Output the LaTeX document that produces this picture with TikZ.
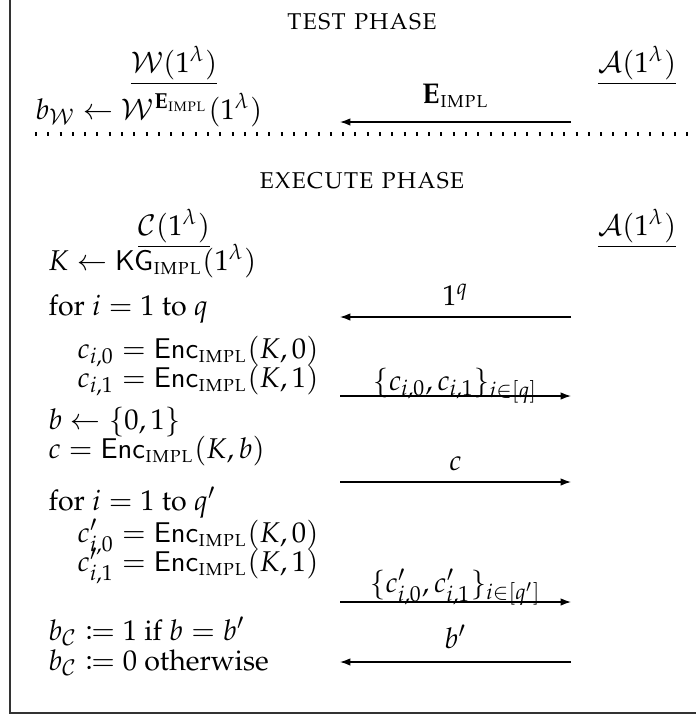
\documentclass[tikz,border=0pt]{standalone}
\usepackage[T1]{fontenc}
\usepackage{mathpazo}
\usepackage{mathtools}
\usetikzlibrary{arrows.meta,positioning}

\newcommand{\impl}{\textsc{impl}}
\newcommand{\Enc}{\mathsf{Enc}_{\impl}}
\newcommand{\KG}{\mathsf{KG}_{\impl}}

\begin{document}
\begin{tikzpicture}[
  x=0.35pt, y=-0.35pt,
  >={Latex[length=3.6pt,width=2.6pt]},
  txt/.style={anchor=base west,inner sep=0pt},
  lbl/.style={anchor=base,inner sep=0pt},
  phase/.style={anchor=base,inner sep=0pt,font=\scshape},
  msg/.style={line width=0.45pt},
  sep/.style={line width=1.2pt,dash pattern=on 0.7pt off 3.6pt},
  frame/.style={line width=0.7pt,black!80}
]
  \useasboundingbox (0,0) rectangle (696,717);

  % frame (cut off at top and right)
  \coordinate (ftop) at (10,0);
  \coordinate (fcorner) at (10,713);
  \coordinate (fend) at (696,713);
  \draw[frame] (ftop) -- (fcorner) -- (fend);

  % Test phase: W against A.
  \node[phase] (tp) at (362,29) {test phase};
  \node[lbl] (w) at (174,72) {$\underline{\mathcal{W}(1^\lambda)}$};
  \node[lbl] (a1) at (637,72) {$\underline{\mathcal{A}(1^\lambda)}$};
  \node[txt] (bw) at (35,119) {$b_{\mathcal{W}} \leftarrow \mathcal{W}^{\mathbf{E}_{\impl}}(1^\lambda)$};

  \coordinate (m0r) at (571,122);
  \coordinate (m0l) at (340,122);
  \draw[msg,->] (m0r) -- node[lbl,yshift=6.6pt] {$\mathbf{E}_{\impl}$} (m0l);

  \coordinate (dl) at (35,134);
  \coordinate (dr) at (696,134);
  \draw[sep] (dl) -- (dr);

  % Execute phase: C against A.
  \node[phase] (ep) at (362,188) {execute phase};
  \node[lbl] (c) at (174,235) {$\underline{\mathcal{C}(1^\lambda)}$};
  \node[lbl] (a2) at (637,235) {$\underline{\mathcal{A}(1^\lambda)}$};

  \node[txt] (kg) at (48,270) {$K \leftarrow \KG(1^\lambda)$};
  \node[txt] (for1) at (48,315) {for $i = 1$ to $q$};
  \node[txt] (c0) at (77,358) {$c_{i,0} = \Enc(K,0)$};
  \node[txt] (c1) at (77,387) {$c_{i,1} = \Enc(K,1)$};
  \node[txt] (bs) at (48,429) {$b \leftarrow \{0,1\}$};
  \node[txt] (ch) at (48,458) {$c = \Enc(K,b)$};
  \node[txt] (for2) at (48,510) {for $i = 1$ to $q'$};
  \node[txt] (cp0) at (77,542) {$c'_{i,0} = \Enc(K,0)$};
  \node[txt] (cp1) at (77,571) {$c'_{i,1} = \Enc(K,1)$};
  \node[txt] (out1) at (48,640) {$b_{\mathcal{C}} \coloneqq 1$ if $b = b'$};
  \node[txt] (out0) at (48,670) {$b_{\mathcal{C}} \coloneqq 0$ otherwise};

  \coordinate (m1r) at (571,317);
  \coordinate (m1l) at (340,317);
  \draw[msg,->] (m1r) -- node[lbl,yshift=4.2pt] {$1^q$} (m1l);

  \coordinate (m2l) at (340,396);
  \coordinate (m2r) at (571,396);
  \draw[msg,->] (m2l) -- node[lbl,yshift=2.1pt] {$\{c_{i,0},c_{i,1}\}_{i\in[q]}$} (m2r);

  \coordinate (m3l) at (340,482);
  \coordinate (m3r) at (571,482);
  \draw[msg,->] (m3l) -- node[lbl,yshift=4.2pt] {$c$} (m3r);

  \coordinate (m4l) at (340,602);
  \coordinate (m4r) at (571,602);
  \draw[msg,->] (m4l) -- node[lbl,yshift=3.5pt] {$\{c'_{i,0},c'_{i,1}\}_{i\in[q']}$} (m4r);

  \coordinate (m5r) at (571,662);
  \coordinate (m5l) at (340,662);
  \draw[msg,->] (m5r) -- node[lbl,yshift=4.9pt] {$b'$} (m5l);
\end{tikzpicture}
\end{document}
